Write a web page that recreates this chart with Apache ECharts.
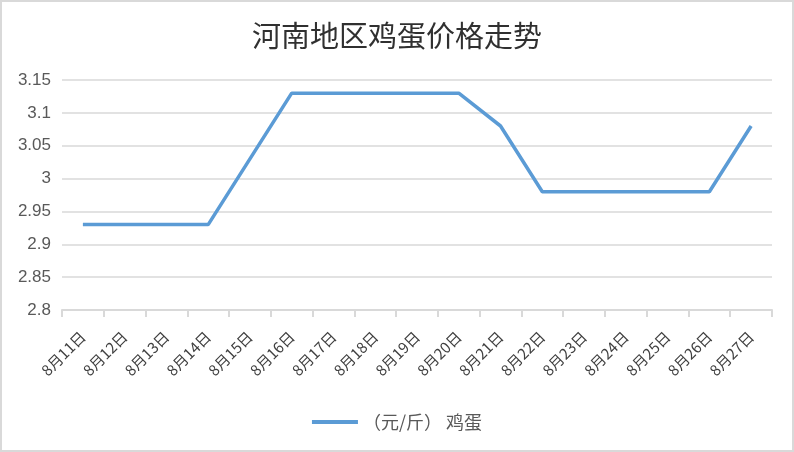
<!DOCTYPE html>
<html><head><meta charset="utf-8">
<script src="https://cdn.jsdelivr.net/npm/echarts@6/dist/echarts.min.js"></script>
<style>
html,body{margin:0;padding:0;background:#fff;}
#c{width:790px;height:448px;border:2px solid #d9d9d9;}
</style></head>
<body><div id="c"></div>
<script>
const categories = ['8月11日','8月12日','8月13日','8月14日','8月15日','8月16日','8月17日','8月18日','8月19日','8月20日','8月21日','8月22日','8月23日','8月24日','8月25日','8月26日','8月27日'];
const eggPrices = [2.93,2.93,2.93,2.93,3.03,3.13,3.13,3.13,3.13,3.13,3.08,2.98,2.98,2.98,2.98,2.98,3.08];
const seriesName = '（元/斤） 鸡蛋';
const titleText = '河南地区鸡蛋价格走势';

const chart = echarts.init(document.getElementById('c'));
chart.setOption({
  animation:false,
  title:{text:titleText,left:'center',top:14,textStyle:{fontFamily:'Noto Sans CJK SC',fontSize:29,fontWeight:'normal',color:'#303030'}},
  grid:{left:60,right:20,top:78,bottom:140},
  legend:{bottom:14,left:'center',itemWidth:46,itemHeight:4,itemGap:10,icon:'rect',textStyle:{fontFamily:'Noto Sans CJK SC',fontSize:18,color:'#595959'},data:[seriesName]},
  xAxis:{type:'category',data:categories,boundaryGap:true,
    axisLine:{lineStyle:{color:'#d9d9d9',width:2}},
    axisTick:{show:true,length:7,lineStyle:{color:'#d9d9d9',width:2}},
    axisLabel:{rotate:45,margin:24,interval:0,fontFamily:'Noto Sans CJK SC',fontSize:15,color:'#404040'}},
  yAxis:{type:'value',min:2.8,max:3.15,interval:0.05,
    axisLine:{show:false},axisTick:{show:false},
    splitLine:{lineStyle:{color:'#d9d9d9',width:1.5}},
    axisLabel:{margin:11,fontFamily:'Liberation Sans',fontSize:17,color:'#595959',formatter:v=>String(+v.toFixed(2))}},
  series:[{name:seriesName,type:'line',data:eggPrices,showSymbol:false,symbol:'none',
    lineStyle:{color:'#5b9bd5',width:3.5},itemStyle:{color:'#5b9bd5'}}]
});
</script></body></html>
